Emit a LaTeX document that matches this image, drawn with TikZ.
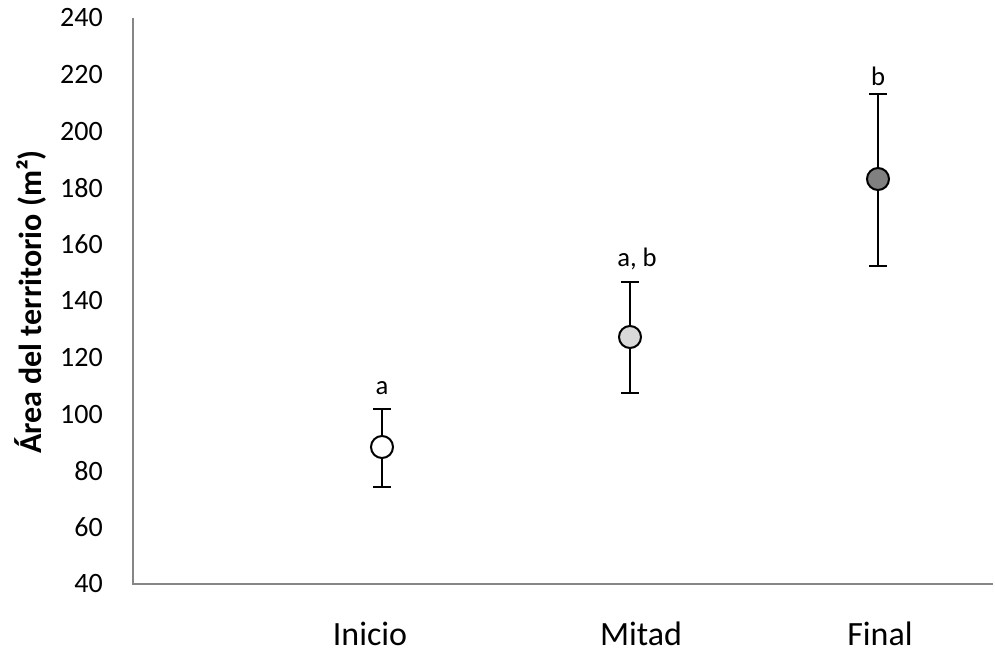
\documentclass[tikz,border=0pt]{standalone}
\usepackage{fontspec}
\setmainfont{Carlito}
\begin{document}
\begin{tikzpicture}[x=0.75pt,y=-0.75pt,
  axisline/.style={draw=axisgray,line width=1.1pt},
  ticklab/.style={anchor=east,font=\fontsize{21}{24}\selectfont,inner sep=0pt},
  catlab/.style={font=\fontsize{25.5}{28}\selectfont,inner sep=0pt},
  letterlab/.style={font=\fontsize{20}{23}\selectfont,inner sep=0pt},
  errbar/.style={draw=black,line width=1.5pt},
  dot/.style={circle,draw=black,line width=1.5pt,minimum size=16.5pt,inner sep=0pt}]
\definecolor{axisgray}{HTML}{868686}
\definecolor{midgray}{HTML}{D9D9D9}
\definecolor{darkgray}{HTML}{808080}
\useasboundingbox (0,0) rectangle (995,653);
% axes
\coordinate (otop) at (133,18);
\coordinate (orig) at (133,584);
\coordinate (xend) at (993,584);
\draw[axisline] (otop) -- (orig) -- (xend);
% tick labels
\foreach \v in {40,60,...,240}{
  \node[ticklab] (t\v) at (103,{18+(240-\v)*2.83}) {\v};
}
% y label
\node[rotate=90,font=\fontsize{24}{28}\selectfont\bfseries,inner sep=0pt] (ylab) at (30,302) {Área del territorio (m²)};
% category labels
\node[catlab] (cI) at (370,634) {Inicio};
\node[catlab] (cM) at (641,634) {Mitad};
\node[catlab] (cF) at (880,634) {Final};
% Inicio
\coordinate (iT) at (382,409);
\coordinate (iB) at (382,487);
\draw[errbar] (iT) -- (iB);
\draw[errbar] ([xshift=-6.5]iT) -- ([xshift=6.5]iT);
\draw[errbar] ([xshift=-6.5]iB) -- ([xshift=6.5]iB);
\node[dot,fill=white] (iP) at (382,447) {};
\node[letterlab] (iL) at (382,388) {a};
% Mitad
\coordinate (mT) at (630,282);
\coordinate (mB) at (630,393);
\draw[errbar] (mT) -- (mB);
\draw[errbar] ([xshift=-6.5]mT) -- ([xshift=6.5]mT);
\draw[errbar] ([xshift=-6.5]mB) -- ([xshift=6.5]mB);
\node[dot,fill=midgray] (mP) at (630,337) {};
\node[letterlab] (mL) at (637,259) {a, b};
% Final
\coordinate (fT) at (878,94);
\coordinate (fB) at (878,266);
\draw[errbar] (fT) -- (fB);
\draw[errbar] ([xshift=-6.5]fT) -- ([xshift=6.5]fT);
\draw[errbar] ([xshift=-6.5]fB) -- ([xshift=6.5]fB);
\node[dot,fill=darkgray] (fP) at (878,179) {};
\node[letterlab] (fL) at (878,76) {b};
\end{tikzpicture}
\end{document}
